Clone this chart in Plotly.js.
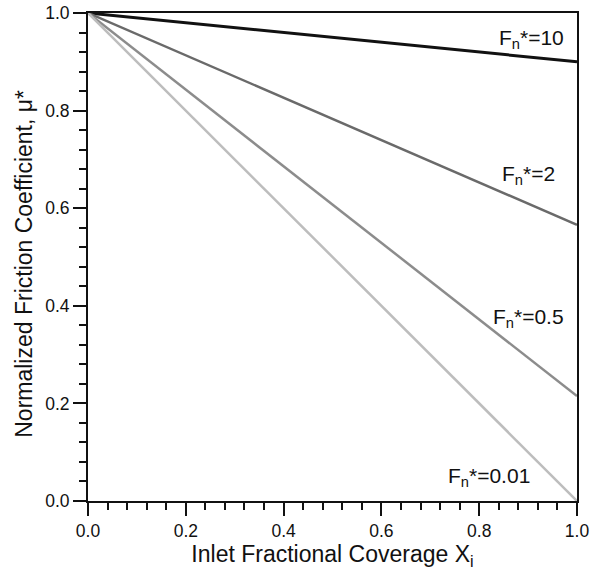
<!DOCTYPE html>
<html>
<head>
<meta charset="utf-8">
<script src="https://cdn.plot.ly/plotly-3.0.1.min.js"></script>
<style>html,body{margin:0;padding:0;background:#fff;}#chart{width:597px;height:572px;}</style>
</head>
<body>
<div id="chart"></div>
<script>
// Data
const xValues = [0, 1];
const seriesNames = ["F<sub>n</sub>*=10", "F<sub>n</sub>*=2", "F<sub>n</sub>*=0.5", "F<sub>n</sub>*=0.01"];
const fn10 = [1.0, 0.900];
const fn2 = [1.0, 0.566];
const fn05 = [1.0, 0.215];
const fn001 = [1.0, 0.0];
const labelX = [0.906, 0.90, 0.90, 0.82];
const labelY = [0.947, 0.668, 0.375, 0.049];
const yTitle = "Normalized Friction Coefficient, μ*";
const xTitle = "Inlet Fractional Coverage X<sub>i</sub>";

const series = [fn10, fn2, fn05, fn001];
const colors = ["#111111", "#6a6a6a", "#8c8c8c", "#bdbdbd"];
const widths = [3, 2.5, 2.5, 2.5];

const font = "'Liberation Sans', Arial, sans-serif";

const traces = series.map((ys, i) => ({
  x: xValues, y: ys, type: "scatter", mode: "lines",
  line: {color: colors[i], width: widths[i]},
  showlegend: false, hoverinfo: "skip"
}));

const annotations = seriesNames.map((t, i) => ({
  x: labelX[i], y: labelY[i], xref: "x", yref: "y",
  text: t, showarrow: false,
  font: {family: font, size: 21, color: "#111"}
}));
annotations.push({
  x: -0.131, y: 0.486, xref: "paper", yref: "paper",
  text: yTitle, showarrow: false, textangle: -90,
  xanchor: "center", yanchor: "middle",
  font: {family: font, size: 23, color: "#111"}
});

const axisCommon = {
  range: [0, 1], dtick: 0.2, tickformat: ".1f",
  ticks: "outside", ticklen: 13, tickwidth: 2, tickcolor: "#111",
  showline: true, linewidth: 2, linecolor: "#111", mirror: true,
  showgrid: false, zeroline: false,
  tickfont: {family: font, size: 17.5, color: "#111"},
  minor: {dtick: 0.04, ticks: "outside", ticklen: 7, tickwidth: 2, tickcolor: "#111", showgrid: false}
};

const layout = {
  width: 597, height: 572,
  margin: {l: 88, r: 20, t: 13, b: 71},
  paper_bgcolor: "#fff", plot_bgcolor: "#fff",
  font: {family: font, color: "#111"},
  xaxis: Object.assign({}, axisCommon, {
    title: {text: xTitle, font: {family: font, size: 23, color: "#111"}, standoff: 6}
  }),
  yaxis: Object.assign({}, axisCommon),
  annotations: annotations
};

Plotly.newPlot("chart", traces, layout, {staticPlot: true, displayModeBar: false});
</script>
</body>
</html>
